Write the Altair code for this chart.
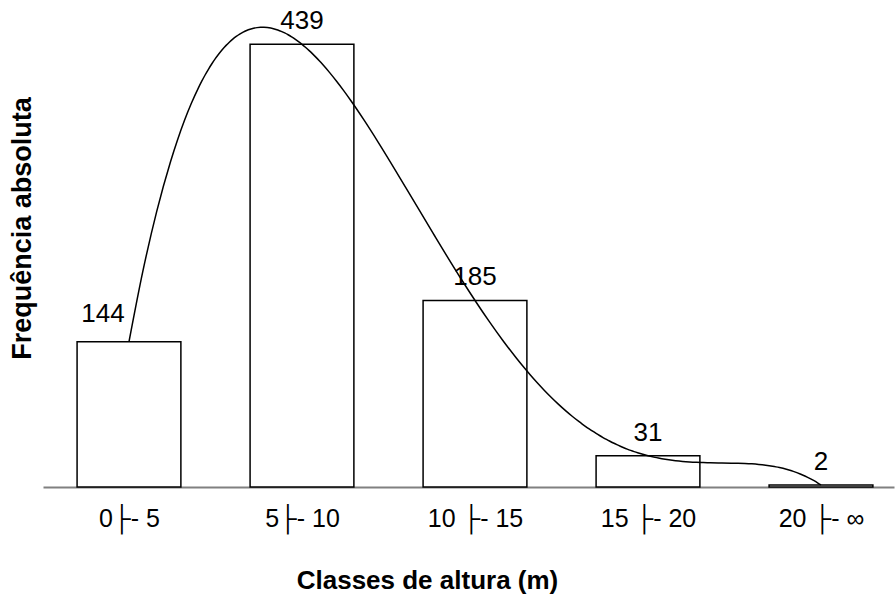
import altair as alt
import pandas as pd

classes = ["0├- 5", "5├- 10", "10 ├- 15", "15 ├- 20", "20 ├- ∞"]
freq = [144, 439, 185, 31, 2]

df = pd.DataFrame({"classe": classes, "freq": freq, "idx": list(range(1, len(classes) + 1))})

FONT = "Liberation Sans"
label_expr = "[" + ",".join("'" + c + "'" for c in classes) + "][datum.value - 1]"

xscale = alt.Scale(domain=[0.503, 5.422], nice=False, zero=False)
yscale = alt.Scale(domain=[0, 480], nice=False)

x_axis = alt.Axis(
    title="Classes de altura (m)",
    titleFont=FONT, titleFontSize=26, titleFontWeight="bold", titleColor="black",
    titleX=384, titleY=93, titleAlign="center", titleBaseline="middle",
    values=list(range(1, len(classes) + 1)), labelExpr=label_expr,
    labelFont=FONT, labelFontSize=25, labelColor="black", labelPadding=31,
    labelAngle=0, labelBaseline="middle", labelOverlap=False,
    ticks=False, domainColor="#808080", domainWidth=2, grid=False,
)
y_axis = alt.Axis(
    title="Frequência absoluta",
    titleFont=FONT, titleFontSize=27, titleFontWeight="bold", titleColor="black",
    titleX=-21, titleY=225, titleAlign="center", titleBaseline="middle", titleAngle=270,
    domain=False, ticks=False, labels=False, grid=False,
)

base = alt.Chart(df)

bars = base.transform_calculate(
    lo="datum.idx - 0.3", hi="datum.idx + 0.3"
).mark_bar(fill="white", stroke="black", strokeWidth=1.5).encode(
    x=alt.X("lo:Q", scale=xscale, axis=x_axis),
    x2="hi:Q",
    y=alt.Y("freq:Q", scale=yscale, axis=y_axis),
    y2=alt.datum(0),
)

curve = base.transform_regression(
    "idx", "freq", method="poly", order=4, extent=[1, 5]
).mark_line(color="black", strokeWidth=1.5, interpolate="monotone", clip=False).encode(
    x=alt.X("idx:Q", scale=xscale), y=alt.Y("freq:Q", scale=yscale)
)

labels_first = base.transform_filter("datum.idx == 1").mark_text(
    font=FONT, fontSize=26, color="black", baseline="alphabetic", dx=-26, dy=-20
).encode(x=alt.X("idx:Q", scale=xscale), y=alt.Y("freq:Q", scale=yscale), text="freq:Q")

labels_rest = base.transform_filter("datum.idx > 1").mark_text(
    font=FONT, fontSize=26, color="black", baseline="alphabetic", dy=-15
).encode(x=alt.X("idx:Q", scale=xscale), y=alt.Y("freq:Q", scale=yscale), text="freq:Q")

chart = (
    alt.layer(bars, curve, labels_first, labels_rest)
    .properties(width=851, height=484, autosize=alt.AutoSizeParams(type="none"),
                padding={"left": 43, "top": 3, "right": 1, "bottom": 108},
                background="white")
    .configure_view(stroke=None)
)

chart.save("out.html", embed_options={"renderer": "svg", "actions": False})
